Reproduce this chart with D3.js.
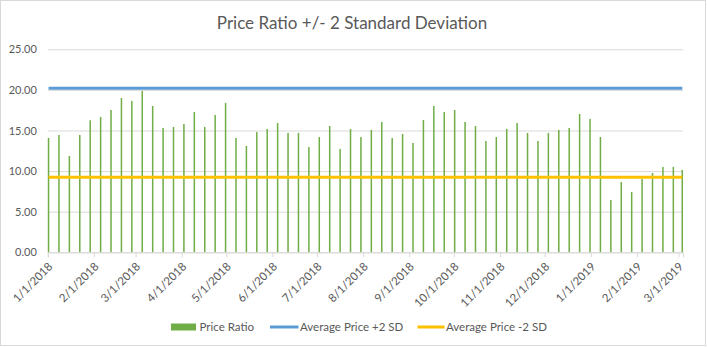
<!DOCTYPE html>
<html>
<head>
<meta charset="utf-8">
<script src="https://cdn.jsdelivr.net/npm/d3@7"></script>
<style>
  html, body { margin: 0; padding: 0; background: #fff; }
  svg { display: block; font-family: Lato, "Open Sans", sans-serif; }
</style>
</head>
<body>
<svg id="chart" width="707" height="347"></svg>
<script>
// Weekly observations (Mondays) plus the latest reading
const dates = [
  "2018-01-01","2018-01-08","2018-01-15","2018-01-22","2018-01-29",
  "2018-02-05","2018-02-12","2018-02-19","2018-02-26",
  "2018-03-05","2018-03-12","2018-03-19","2018-03-26",
  "2018-04-02","2018-04-09","2018-04-16","2018-04-23","2018-04-30",
  "2018-05-07","2018-05-14","2018-05-21","2018-05-28",
  "2018-06-04","2018-06-11","2018-06-18","2018-06-25",
  "2018-07-02","2018-07-09","2018-07-16","2018-07-23","2018-07-30",
  "2018-08-06","2018-08-13","2018-08-20","2018-08-27",
  "2018-09-03","2018-09-10","2018-09-17","2018-09-24",
  "2018-10-01","2018-10-08","2018-10-15","2018-10-22","2018-10-29",
  "2018-11-05","2018-11-12","2018-11-19","2018-11-26",
  "2018-12-03","2018-12-10","2018-12-17","2018-12-24","2018-12-31",
  "2019-01-07","2019-01-14","2019-01-21","2019-01-28",
  "2019-02-04","2019-02-11","2019-02-18","2019-02-25",
  "2019-03-03"
];

const priceRatio = [
  14.08, 14.45, 11.86, 14.45, 16.26,
  16.67, 17.53, 19.01, 18.64,
  19.87, 18.02, 15.31, 15.44,
  15.80, 17.28, 15.44, 16.91, 18.39,
  14.08, 13.10, 14.82, 15.19,
  15.93, 14.70, 14.70, 12.97,
  14.20, 15.56, 12.73, 15.19, 14.20,
  15.07, 16.05, 14.08, 14.57,
  13.46, 16.30, 18.02, 17.28,
  17.53, 16.05, 15.56, 13.71, 14.20,
  15.19, 15.93, 14.70, 13.71,
  14.70, 15.07, 15.31, 17.04, 16.42,
  14.20, 6.45, 8.66, 7.43,
  9.05, 9.77, 10.51, 10.51,
  10.14
];

const upperBand = 20.2;   // Average Price +2 SD
const lowerBand = 9.24;   // Average Price -2 SD

const yTicks = [0, 5, 10, 15, 20, 25];
const monthTicks = [
  "2018-01-01","2018-02-01","2018-03-01","2018-04-01","2018-05-01","2018-06-01",
  "2018-07-01","2018-08-01","2018-09-01","2018-10-01","2018-11-01","2018-12-01",
  "2019-01-01","2019-02-01","2019-03-01"
];

const seriesNames = ["Price Ratio", "Average Price +2 SD", "Average Price -2 SD"];
const colors = { bar: "#70AD47", upper: "#5B9BD5", lower: "#FFC000" };

const parse = d3.utcParse("%Y-%m-%d");
const fmt = d3.utcFormat("%-m/%-d/%Y");
const DAY = 864e5;

const svg = d3.select("#chart");
const W = 707, H = 347;

// chart frame
svg.append("rect")
  .attr("x", 0.5).attr("y", 0.5).attr("width", W - 2).attr("height", H - 2)
  .attr("fill", "#fff").attr("stroke", "#D9D9D9");

const plot = { left: 47.8, right: 683, top: 49.3, bottom: 252.3 };

const x = d3.scaleUtc()
  .domain([parse("2018-01-01"), parse("2019-03-04")])
  .range([plot.left, plot.right]);

const y = d3.scaleLinear()
  .domain([0, 25])
  .range([plot.bottom, plot.top]);

// day-slot centre for a date
const cx = d => x(new Date(parse(d).getTime() + DAY / 2));

// title
svg.append("text")
  .attr("x", 352).attr("y", 29)
  .attr("text-anchor", "middle")
  .attr("fill", "#595959")
  .attr("font-size", 17)
  .text("Price Ratio +/- 2 Standard Deviation");

// horizontal gridlines + y axis labels
const yAxis = d3.axisLeft(y)
  .tickValues(yTicks)
  .tickFormat(d3.format(".2f"))
  .tickSize(-(plot.right - plot.left))
  .tickPadding(11);

const gy = svg.append("g")
  .attr("transform", `translate(${plot.left},0)`)
  .call(yAxis);
gy.select(".domain").remove();
gy.selectAll(".tick line").attr("stroke", "#D9D9D9").attr("stroke-width", 1);
gy.selectAll(".tick text")
  .attr("fill", "#595959")
  .attr("font-size", 11)
  .attr("font-family", "Lato, sans-serif");

// bars
svg.append("g")
  .selectAll("rect")
  .data(dates.map((d, i) => ({ d, v: priceRatio[i] })))
  .join("rect")
  .attr("x", p => cx(p.d) - 0.75)
  .attr("width", 1.5)
  .attr("y", p => y(p.v))
  .attr("height", p => y(0) - y(p.v))
  .attr("fill", colors.bar);

// x axis with month ticks
const xAxis = d3.axisBottom(x)
  .tickValues(monthTicks.map(parse))
  .tickSize(5)
  .tickFormat(fmt);

const gx = svg.append("g")
  .attr("transform", `translate(0,${plot.bottom})`)
  .call(xAxis);
gx.select(".domain").attr("stroke", "#D9D9D9");
gx.selectAll(".tick line").attr("stroke", "#D9D9D9");
gx.selectAll(".tick text")
  .attr("fill", "#595959")
  .attr("font-size", 11.5)
  .attr("font-family", "Lato, sans-serif")
  .attr("text-anchor", "end")
  .attr("y", 0).attr("dy", 0)
  .attr("transform", "translate(5,15) rotate(-45)");

// band lines
const bandLine = v => d3.line()
  .x(d => cx(d))
  .y(() => y(v));
const first = dates[0], last = dates[dates.length - 1];

svg.append("path")
  .attr("d", bandLine(upperBand)([first, last]))
  .attr("stroke", colors.upper).attr("stroke-width", 3).attr("fill", "none");

svg.append("path")
  .attr("d", bandLine(lowerBand)([first, last]))
  .attr("stroke", colors.lower).attr("stroke-width", 3).attr("fill", "none");

// legend
const legend = svg.append("g").attr("font-size", 11.5).attr("fill", "#595959");
const legY = 327;

legend.append("rect")
  .attr("x", 171).attr("y", legY - 3.5).attr("width", 25).attr("height", 7)
  .attr("fill", colors.bar);
legend.append("text").attr("x", 199.5).attr("y", legY + 4).text(seriesNames[0]);

legend.append("line")
  .attr("x1", 270).attr("x2", 298.5).attr("y1", legY).attr("y2", legY)
  .attr("stroke", colors.upper).attr("stroke-width", 3);
legend.append("text").attr("x", 300).attr("y", legY + 4).text(seriesNames[1]);

legend.append("line")
  .attr("x1", 417.5).attr("x2", 444.5).attr("y1", legY).attr("y2", legY)
  .attr("stroke", colors.lower).attr("stroke-width", 3);
legend.append("text").attr("x", 446).attr("y", legY + 4).text(seriesNames[2]);
</script>
</body>
</html>
